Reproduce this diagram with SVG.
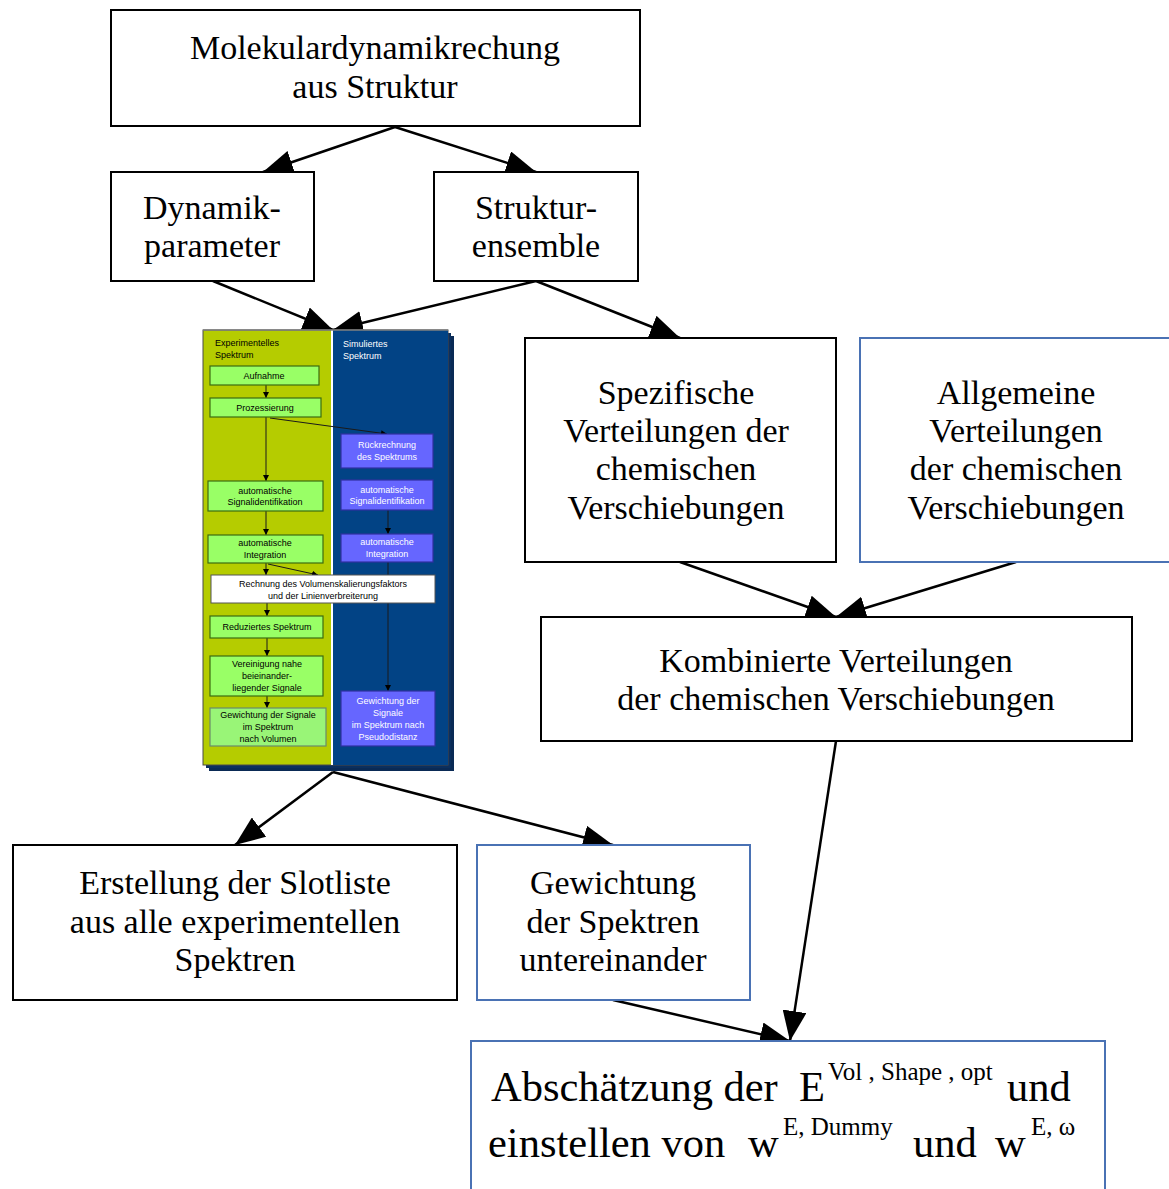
<svg xmlns="http://www.w3.org/2000/svg" width="1169" height="1189" viewBox="0 0 1169 1189">
  <defs>
    <marker id="arrow" viewBox="0 0 30 24" refX="30" refY="12" markerWidth="30" markerHeight="24" markerUnits="userSpaceOnUse" orient="auto">
      <path d="M0,0 L30,12 L0,24 Z" fill="#000"/>
    </marker>
    <marker id="tiny" viewBox="0 0 6 6" refX="6" refY="3" markerWidth="6" markerHeight="6" markerUnits="userSpaceOnUse" orient="auto">
      <path d="M0,0 L6,3 L0,6 Z" fill="#000"/>
    </marker>
    <style>
      .box { fill: #fff; stroke: #000; stroke-width: 2; }
      .bbox { fill: #fff; stroke: #4a72b4; stroke-width: 2; }
      .t { font-family: "Liberation Serif", "Times New Roman", serif; font-size: 34px; fill: #000; text-anchor: middle; }
      .big { font-family: "Liberation Serif", "Times New Roman", serif; font-size: 42.5px; fill: #000; }
      .sup { font-family: "Liberation Serif", "Times New Roman", serif; font-size: 25px; fill: #000; }
      .edge { stroke: #000; stroke-width: 2.5; fill: none; marker-end: url(#arrow); }
      .mini { stroke: #1a1a1a; stroke-width: 1; fill: none; marker-end: url(#tiny); }
      .gbox { fill: #99ff66; stroke: #3d6b10; stroke-width: 1.2; }
      .vbox { fill: #6666ff; stroke: #3030a0; stroke-width: 1.2; }
      .s { font-family: "Liberation Sans", Arial, sans-serif; font-size: 9px; text-anchor: middle; }
      .sl { font-family: "Liberation Sans", Arial, sans-serif; font-size: 9px; }
    </style>
  </defs>

  <!-- connectors -->
  <g id="connectors">
    <line class="edge" x1="395" y1="127" x2="263" y2="172"/>
    <line class="edge" x1="395" y1="127" x2="536" y2="172"/>
    <line class="edge" x1="213" y1="281" x2="333" y2="330"/>
    <line class="edge" x1="536" y1="281" x2="333" y2="330"/>
    <line class="edge" x1="536" y1="281" x2="680" y2="338"/>
    <line class="edge" x1="680" y1="562" x2="836" y2="617"/>
    <line class="edge" x1="1016" y1="562" x2="836" y2="617"/>
    <line class="edge" x1="836" y1="741" x2="790" y2="1041"/>
    <line class="edge" x1="333" y1="772" x2="235" y2="845"/>
    <line class="edge" x1="333" y1="772" x2="613" y2="845"/>
    <line class="edge" x1="613" y1="1000" x2="790" y2="1041"/>
  </g>

  <g id="n-md">
    <rect class="box" x="111" y="10" width="529" height="116"/>
    <text class="t" x="375" y="59">Molekulardynamikrechung</text>
    <text class="t" x="375" y="98">aus Struktur</text>
  </g>

  <g id="n-dyn">
    <rect class="box" x="111" y="172" width="203" height="109"/>
    <text class="t" x="212" y="219">Dynamik-</text>
    <text class="t" x="212" y="257">parameter</text>
  </g>

  <g id="n-ens">
    <rect class="box" x="434" y="172" width="204" height="109"/>
    <text class="t" x="536" y="219">Struktur-</text>
    <text class="t" x="536" y="257">ensemble</text>
  </g>

  <!-- flow chart of spectrum processing -->
  <g id="n-spectrum">
    <rect x="209" y="336" width="245" height="435" fill="#0a2a55"/>
    <rect x="206" y="333" width="245" height="435" fill="#0b2f5e"/>
    <rect x="203" y="330" width="245" height="435" fill="#b5cc00" stroke="#4a4a4a" stroke-width="1"/>
    <rect x="333" y="330" width="115" height="435" fill="#024385"/>
    <rect x="331" y="330" width="2" height="435" fill="#fff"/>
    <line x1="203" y1="330" x2="448" y2="330" stroke="#808080" stroke-width="1.5"/>

    <text class="sl" x="215" y="346">Experimentelles</text>
    <text class="sl" x="215" y="358">Spektrum</text>
    <text class="sl" x="343" y="347" fill="#fff">Simuliertes</text>
    <text class="sl" x="343" y="359" fill="#fff">Spektrum</text>

    <line class="mini" x1="266" y1="385" x2="266" y2="398"/>
    <line class="mini" x1="266" y1="417" x2="266" y2="481"/>
    <line class="mini" x1="270" y1="418" x2="387" y2="434"/>
    <line class="mini" x1="266" y1="511" x2="266" y2="535"/>
    <line class="mini" x1="388" y1="510" x2="388" y2="534"/>
    <line class="mini" x1="266" y1="563" x2="266" y2="575"/>
    <line class="mini" x1="268" y1="564" x2="318" y2="575"/>
    <line class="mini" x1="388" y1="562" x2="388" y2="691"/>
    <line class="mini" x1="267" y1="603" x2="267" y2="616"/>
    <line class="mini" x1="267" y1="638" x2="267" y2="656"/>
    <line class="mini" x1="267" y1="696" x2="267" y2="708"/>

    <rect class="gbox" x="210" y="366" width="109" height="19"/>
    <text class="s" x="264" y="379">Aufnahme</text>
    <rect class="gbox" x="210" y="398" width="111" height="19"/>
    <text class="s" x="265" y="411">Prozessierung</text>
    <rect class="gbox" x="208" y="481" width="115" height="30"/>
    <text class="s" x="265" y="494">automatische</text>
    <text class="s" x="265" y="505">Signalidentifikation</text>
    <rect class="gbox" x="208" y="535" width="115" height="28"/>
    <text class="s" x="265" y="546">automatische</text>
    <text class="s" x="265" y="558">Integration</text>

    <rect class="vbox" x="341" y="434" width="92" height="34"/>
    <text class="s" x="387" y="448" fill="#fff">Rückrechnung</text>
    <text class="s" x="387" y="460" fill="#fff">des Spektrums</text>
    <rect class="vbox" x="341" y="480" width="92" height="30"/>
    <text class="s" x="387" y="493" fill="#fff">automatische</text>
    <text class="s" x="387" y="504" fill="#fff">Signalidentifikation</text>
    <rect class="vbox" x="341" y="534" width="92" height="28"/>
    <text class="s" x="387" y="545" fill="#fff">automatische</text>
    <text class="s" x="387" y="557" fill="#fff">Integration</text>

    <rect x="211" y="575" width="224" height="28" fill="#fff" stroke="#555" stroke-width="1"/>
    <text class="s" x="323" y="587">Rechnung des Volumenskalierungsfaktors</text>
    <text class="s" x="323" y="599">und der Linienverbreiterung</text>

    <rect class="gbox" x="210" y="616" width="113" height="22"/>
    <text class="s" x="267" y="630">Reduziertes Spektrum</text>
    <rect class="gbox" x="210" y="656" width="113" height="40"/>
    <text class="s" x="267" y="667">Vereinigung nahe</text>
    <text class="s" x="267" y="679">beieinander-</text>
    <text class="s" x="267" y="691">liegender Signale</text>
    <rect x="210" y="708" width="116" height="38" fill="#99f577" stroke="#6a8a6a" stroke-width="1.2"/>
    <text class="s" x="268" y="718">Gewichtung der Signale</text>
    <text class="s" x="268" y="730">im Spektrum</text>
    <text class="s" x="268" y="742">nach Volumen</text>

    <rect class="vbox" x="341" y="691" width="94" height="55"/>
    <text class="s" x="388" y="704" fill="#fff">Gewichtung der</text>
    <text class="s" x="388" y="716" fill="#fff">Signale</text>
    <text class="s" x="388" y="728" fill="#fff">im Spektrum nach</text>
    <text class="s" x="388" y="740" fill="#fff">Pseudodistanz</text>
  </g>

  <g id="n-spez">
    <rect class="box" x="525" y="338" width="311" height="224"/>
    <text class="t" x="676" y="404">Spezifische</text>
    <text class="t" x="676" y="442">Verteilungen der</text>
    <text class="t" x="676" y="480">chemischen</text>
    <text class="t" x="676" y="519">Verschiebungen</text>
  </g>

  <g id="n-allg">
    <rect class="bbox" x="860" y="338" width="320" height="224"/>
    <text class="t" x="1016" y="404">Allgemeine</text>
    <text class="t" x="1016" y="442">Verteilungen</text>
    <text class="t" x="1016" y="480">der chemischen</text>
    <text class="t" x="1016" y="519">Verschiebungen</text>
  </g>

  <g id="n-komb">
    <rect class="box" x="541" y="617" width="591" height="124"/>
    <text class="t" x="836" y="672">Kombinierte Verteilungen</text>
    <text class="t" x="836" y="710">der chemischen Verschiebungen</text>
  </g>

  <g id="n-slot">
    <rect class="box" x="13" y="845" width="444" height="155"/>
    <text class="t" x="235" y="894">Erstellung der Slotliste</text>
    <text class="t" x="235" y="933">aus alle experimentellen</text>
    <text class="t" x="235" y="971">Spektren</text>
  </g>

  <g id="n-gew">
    <rect class="bbox" x="477" y="845" width="273" height="155"/>
    <text class="t" x="613" y="894">Gewichtung</text>
    <text class="t" x="613" y="933">der Spektren</text>
    <text class="t" x="613" y="971">untereinander</text>
  </g>

  <g id="n-est">
    <rect class="bbox" x="471" y="1041" width="634" height="160"/>
    <text class="big" x="491" y="1101">Abschätzung der</text>
    <text class="big" x="799" y="1101">E</text>
    <text class="sup" x="828" y="1080" font-size="24">Vol , Shape , opt</text>
    <text class="big" x="1007" y="1101">und</text>
    <text class="big" x="488" y="1157">einstellen von</text>
    <text class="big" x="748" y="1157">w</text>
    <text class="sup" x="783" y="1135">E, Dummy</text>
    <text class="big" x="913" y="1157">und</text>
    <text class="big" x="995" y="1157">w</text>
    <text class="sup" x="1031" y="1135">E, ω</text>
  </g>
</svg>
